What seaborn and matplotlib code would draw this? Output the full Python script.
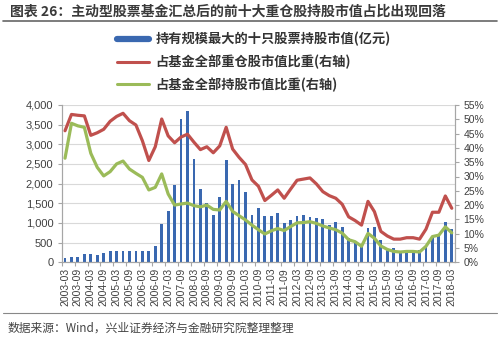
import numpy as np
import pandas as pd
import matplotlib
matplotlib.use("Agg")
import matplotlib.pyplot as plt
import seaborn as sns
from matplotlib.lines import Line2D
from matplotlib.font_manager import FontProperties
from matplotlib.ticker import FuncFormatter

# ---------------- data ----------------
quarters = [
    "2003-03", "2003-06", "2003-09", "2003-12",
    "2004-03", "2004-06", "2004-09", "2004-12",
    "2005-03", "2005-06", "2005-09", "2005-12",
    "2006-03", "2006-06", "2006-09", "2006-12",
    "2007-03", "2007-06", "2007-09", "2007-12",
    "2008-03", "2008-06", "2008-09", "2008-12",
    "2009-03", "2009-06", "2009-09", "2009-12",
    "2010-03", "2010-06", "2010-09", "2010-12",
    "2011-03", "2011-06", "2011-09", "2011-12",
    "2012-03", "2012-06", "2012-09", "2012-12",
    "2013-03", "2013-06", "2013-09", "2013-12",
    "2014-03", "2014-06", "2014-09", "2014-12",
    "2015-03", "2015-06", "2015-09", "2015-12",
    "2016-03", "2016-06", "2016-09", "2016-12",
    "2017-03", "2017-06", "2017-09", "2017-12",
    "2018-03",
]

# 持有规模最大的十只股票持股市值(亿元)
top10_value = [
    100, 145, 145, 205, 205, 190, 245, 280, 295, 295,
    280, 295, 280, 295, 415, 980, 1310, 1960, 3650, 3835,
    2630, 1860, 1510, 1210, 1650, 2610, 1980, 2095, 1790, 1200,
    1370, 1165, 1190, 1260, 995, 1076, 1165, 1205, 1140, 1120,
    1090, 945, 1035, 885, 610, 545, 380, 865, 905, 565,
    335, 355, 290, 295, 295, 315, 415, 650, 720, 1030,
    840,
]

# 占基金全部重仓股市值比重(右轴, %)
heavy_share = [
    46.0, 51.7, 51.4, 51.2, 44.4, 45.3, 46.5, 49.3, 51.0, 52.1,
    49.5, 48.0, 42.5, 35.6, 40.4, 50.1, 44.2, 41.8, 43.8, 44.8,
    42.0, 39.4, 40.4, 38.3, 40.7, 47.2, 39.6, 36.7, 34.2, 28.8,
    26.6, 21.6, 23.4, 25.3, 22.4, 25.6, 28.7, 29.1, 29.5, 27.4,
    24.7, 23.3, 22.4, 20.3, 15.9, 14.6, 13.0, 21.3, 17.7, 10.8,
    9.2, 8.1, 8.1, 8.6, 8.6, 8.1, 11.6, 17.5, 17.5, 23.2,
    18.9,
]

# 占基金全部持股市值比重(右轴, %)
all_share = [
    36.4, 48.6, 47.7, 47.2, 38.1, 33.2, 30.2, 31.7, 34.4, 35.4,
    32.6, 31.1, 29.7, 25.3, 26.2, 30.9, 23.9, 20.0, 20.4, 20.7,
    19.8, 19.4, 20.0, 18.5, 18.3, 21.3, 17.8, 16.3, 14.8, 13.0,
    11.4, 9.9, 11.0, 11.8, 11.1, 12.5, 13.8, 13.9, 14.2, 13.6,
    12.7, 12.0, 11.4, 10.2, 7.9, 7.2, 5.6, 10.1, 8.4, 5.7,
    4.5, 3.8, 3.6, 3.8, 3.8, 3.6, 5.6, 9.0, 9.5, 12.4,
    10.3,
]

left_ticks = [0, 500, 1000, 1500, 2000, 2500, 3000, 3500, 4000]
right_ticks = [0, 5, 10, 15, 20, 25, 30, 35, 40, 45, 50, 55]

title_text = "图表 26：主动型股票基金汇总后的前十大重仓股持股市值占比出现回落"
legend_labels = [
    "持有规模最大的十只股票持股市值(亿元)",
    "占基金全部重仓股市值比重(右轴)",
    "占基金全部持股市值比重(右轴)",
]
source_text = "数据来源：Wind，兴业证券经济与金融研究院整理整理"

# ---------------- style ----------------
sns.set_theme(style="white")
plt.rcParams["font.family"] = ["Liberation Sans", "Noto Sans CJK SC", "DejaVu Sans"]

BLUE = "#3A68B0"
RED = "#C0504D"
GREEN = "#9BBB59"
AXC = "#A6A6A6"
TXT = "#404040"

df = pd.DataFrame({
    "quarter": quarters,
    "top10": top10_value,
    "heavy": heavy_share,
    "all": all_share,
})
df["idx"] = np.arange(len(df))

W, H = 500, 342
fig = plt.figure(figsize=(W / 100, H / 100), dpi=100)
x0, x1, ytop, ybot = 61.8, 455.0, 105.0, 262.3
ax = fig.add_axes([x0 / W, 1 - ybot / H, (x1 - x0) / W, (ybot - ytop) / H])

sns.barplot(data=df, x="quarter", y="top10", order=quarters, ax=ax,
            color=BLUE, saturation=1, width=0.44, zorder=2, linewidth=0)
ax.set_xlim(-0.5, len(quarters) - 0.5)
ax.set_ylim(0, 4000)
ax.set_yticks(left_ticks)
ax.yaxis.set_major_formatter(FuncFormatter(lambda v, p: f"{int(v):,}"))
ax.yaxis.grid(True, color="#D9D9D9", lw=0.8, zorder=0)
ax.set_axisbelow(True)
ax.set_xlabel("")
ax.set_ylabel("")

ax.set_xticks(range(0, len(quarters), 2))
ax.set_xticklabels(quarters[::2], rotation=90)
ax.set_xticks(np.arange(-0.5, len(quarters), 2), minor=True)
ax.tick_params(axis="x", which="major", length=0, pad=4, labelsize=7.5, labelcolor=TXT)
ax.tick_params(axis="x", which="minor", length=3, width=0.8, color=AXC, direction="out", bottom=True)
ax.tick_params(axis="y", length=3, width=0.8, color=AXC, labelsize=8, labelcolor=TXT,
               left=True, pad=3)

ax2 = ax.twinx()
sns.lineplot(data=df, x="idx", y="heavy", ax=ax2, color=RED, lw=2.3)
sns.lineplot(data=df, x="idx", y="all", ax=ax2, color=GREEN, lw=2.3)
ax2.set_ylim(0, 55)
ax2.set_xlim(-0.5, len(quarters) - 0.5)
ax2.set_yticks(right_ticks)
ax2.yaxis.set_major_formatter(FuncFormatter(lambda v, p: f"{int(v)}%"))
ax2.set_xlabel("")
ax2.set_ylabel("")
ax2.grid(False)
ax2.tick_params(axis="y", length=3, width=0.8, color=AXC, labelsize=7.5, labelcolor=TXT,
                right=True, pad=3)

for a in (ax, ax2):
    a.spines["top"].set_visible(False)
    for s in ("left", "right", "bottom"):
        a.spines[s].set_color(AXC)
        a.spines[s].set_linewidth(0.8)

# legend
handles = [
    Line2D([], [], color=BLUE, lw=4.5),
    Line2D([], [], color=RED, lw=2.2),
    Line2D([], [], color=GREEN, lw=2.2),
]
legfont = FontProperties(family=["Noto Sans CJK SC", "DejaVu Sans"], weight="bold", size=9.5)
leg = fig.legend(handles, legend_labels, loc="upper left",
                 bbox_to_anchor=(117 / W, 1 - 32 / H), frameon=False, prop=legfont,
                 handlelength=2.4, handletextpad=0.5, labelspacing=0.62, borderpad=0,
                 borderaxespad=0)
for t in leg.get_texts():
    t.set_color("#333333")

# title, rules, source
fig.text(10 / W, 1 - 12 / H, title_text, fontsize=10, fontweight="bold",
         family=["Noto Sans CJK SC", "DejaVu Sans"], color="#3A3A3A", va="center", ha="left")
fig.add_artist(Line2D([3 / W, 497 / W], [1 - 21 / H, 1 - 21 / H], color="#666666", lw=1.2))
fig.add_artist(Line2D([3 / W, 497 / W], [1 - 313 / H, 1 - 313 / H], color="#888888", lw=0.8))
fig.text(8 / W, 1 - 328 / H, source_text, fontsize=8.5,
         family=["Noto Sans CJK SC", "DejaVu Sans"], color="#444444", va="center", ha="left")

fig.savefig("out.png", dpi=100)
